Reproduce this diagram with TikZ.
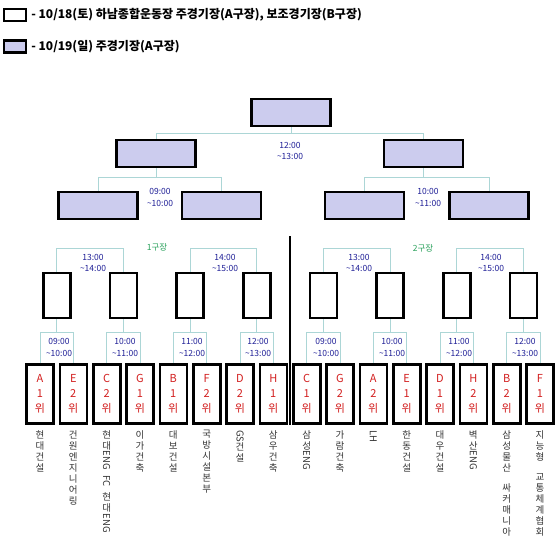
\documentclass[tikz,border=0pt]{standalone}
\usepackage{fontspec}
\setmainfont{Noto Sans CJK KR}
\usetikzlibrary{positioning}
\definecolor{slotfill}{RGB}{204,204,238}
\definecolor{linkcol}{RGB}{172,214,214}
\definecolor{timecol}{RGB}{30,30,150}
\definecolor{fieldcol}{RGB}{40,160,90}
\definecolor{rankcol}{RGB}{210,30,30}
\tikzset{
  legbox/.style  = {draw, line width=2.2pt, minimum width=22, minimum height=12,
                    inner sep=0pt},
  legtxt/.style  = {font=\bfseries\fontsize{12}{14}\selectfont, inner sep=0pt},
  upbox/.style   = {draw, line width=2.6pt, fill=slotfill, minimum width=79,
                    minimum height=27, inner sep=0pt},
  gamebox/.style = {draw, line width=2.6pt, minimum width=27, minimum height=45,
                    inner sep=0pt},
  teambox/.style = {draw, line width=2.6pt, minimum width=27, minimum height=59,
                    inner sep=0pt, align=center, text=rankcol,
                    font=\fontsize{11}{15}\selectfont},
  link/.style    = {draw=linkcol, line width=1pt},
  timelbl/.style = {text=timecol, align=center, inner sep=0pt,
                    font=\fontsize{8.5}{11.5}\selectfont},
  field/.style   = {text=fieldcol, inner sep=0pt, font=\fontsize{8.5}{10}\selectfont},
  tname/.style   = {anchor=north, align=center, inner sep=0pt, text=black!80,
                    font=\fontsize{9.5}{11}\selectfont},
}
\newcommand{\lat}[1]{\rotatebox[origin=c]{-90}{#1}}
\newcommand{\tl}{\textasciitilde}
\newcommand{\pairlink}[3]{\draw[link] (#1.north) -- (#1.north |- 0,#3)
  -- (#2.north |- 0,#3) -- (#2.north);}
\newcommand{\uplink}[2]{\draw[link] (#1.south) -- (#1.south |- 0,#2);}

\begin{document}
\begin{tikzpicture}[x=1pt, y=-1pt]
\useasboundingbox (0,0) rectangle (560,557);
% ---------------- legend ----------------
\node[legbox] (leg1) at (15,15) {};
\node[legtxt, right=4pt of leg1] (legt1)
   {- 10/18(토) 하남종합운동장 주경기장(A구장), 보조경기장(B구장)};
\node[legbox, fill=slotfill] (leg2) at (15,46.5) {};
\node[legtxt, right=4pt of leg2] (legt2) {- 10/19(일) 주경기장(A구장)};
% ---------------- upper rounds ----------------
\node[upbox] (fin) at (291,112.5) {};
\node[upbox] (s1) at (156,153.5) {};
\node[upbox] (s2) at (423.5,153.5) {};
\node[upbox] (q1) at (98,205.5) {};
\node[upbox] (q2) at (221.5,205.5) {};
\node[upbox] (q3) at (364.5,205.5) {};
\node[upbox] (q4) at (489,205.5) {};
\pairlink{s1}{s2}{133}
\uplink{fin}{133}
\pairlink{q1}{q2}{177}
\uplink{s1}{177}
\pairlink{q3}{q4}{177}
\uplink{s2}{177}
\node[timelbl] (t12) at (290,151) {12:00\\\tl13:00};
\node[timelbl] (t09) at (160,197.5) {09:00\\\tl10:00};
\node[timelbl] (t10) at (428,197.5) {10:00\\\tl11:00};
% ---------------- field 1 / field 2 ----------------
\node[field] (f1) at (157,247) {1구장};
\node[field] (f2) at (423,248) {2구장};
\coordinate (divtop) at (290,236);
\coordinate (divbot) at (290,425);
\draw[line width=1.3pt] (divtop) -- (divbot);
\node[gamebox] (g1) at (56.7,295.5) {};
\node[gamebox] (g2) at (123.3,295.5) {};
\node[gamebox] (g3) at (190,295.5) {};
\node[gamebox] (g4) at (256.7,295.5) {};
\node[gamebox] (g5) at (323.3,295.5) {};
\node[gamebox] (g6) at (390,295.5) {};
\node[gamebox] (g7) at (456.7,295.5) {};
\node[gamebox] (g8) at (523.3,295.5) {};
\pairlink{g1}{g2}{248}
\pairlink{g3}{g4}{248}
\pairlink{g5}{g6}{248}
\pairlink{g7}{g8}{248}
\node[timelbl] (t13a) at (93,263) {13:00\\\tl14:00};
\node[timelbl] (t14a) at (225,263) {14:00\\\tl15:00};
\node[timelbl] (t13b) at (359,263) {13:00\\\tl14:00};
\node[timelbl] (t14b) at (491,263) {14:00\\\tl15:00};
% ---------------- teams ----------------
\node[teambox] (tA1) at (40,394) {A\\1\\위};
\node[teambox] (tE2) at (73.3,394) {E\\2\\위};
\node[teambox] (tC2) at (106.7,394) {C\\2\\위};
\node[teambox] (tG1) at (140,394) {G\\1\\위};
\node[teambox] (tB1) at (173.3,394) {B\\1\\위};
\node[teambox] (tF2) at (206.7,394) {F\\2\\위};
\node[teambox] (tD2) at (240,394) {D\\2\\위};
\node[teambox] (tH1) at (273.3,394) {H\\1\\위};
\node[teambox] (tC1) at (306.7,394) {C\\1\\위};
\node[teambox] (tG2) at (340,394) {G\\2\\위};
\node[teambox] (tA2) at (373.3,394) {A\\2\\위};
\node[teambox] (tE1) at (406.7,394) {E\\1\\위};
\node[teambox] (tD1) at (440,394) {D\\1\\위};
\node[teambox] (tH2) at (473.3,394) {H\\2\\위};
\node[teambox] (tB2) at (506.7,394) {B\\2\\위};
\node[teambox] (tF1) at (540,394) {F\\1\\위};
\pairlink{tA1}{tE2}{332} \uplink{g1}{332}
\pairlink{tC2}{tG1}{332} \uplink{g2}{332}
\pairlink{tB1}{tF2}{332} \uplink{g3}{332}
\pairlink{tD2}{tH1}{332} \uplink{g4}{332}
\pairlink{tC1}{tG2}{332} \uplink{g5}{332}
\pairlink{tA2}{tE1}{332} \uplink{g6}{332}
\pairlink{tD1}{tH2}{332} \uplink{g7}{332}
\pairlink{tB2}{tF1}{332} \uplink{g8}{332}
\node[timelbl] (b09a) at (59,347.5) {09:00\\\tl10:00};
\node[timelbl] (b10a) at (125,347.5) {10:00\\\tl11:00};
\node[timelbl] (b11a) at (192,347.5) {11:00\\\tl12:00};
\node[timelbl] (b12a) at (258,347.5) {12:00\\\tl13:00};
\node[timelbl] (b09b) at (326,347.5) {09:00\\\tl10:00};
\node[timelbl] (b10b) at (392,347.5) {10:00\\\tl11:00};
\node[timelbl] (b11b) at (459,347.5) {11:00\\\tl12:00};
\node[timelbl] (b12b) at (525,347.5) {12:00\\\tl13:00};
% team names, written downwards
\node[tname] (nA1) at (40,430) {현\\대\\건\\설};
\node[tname] (nE2) at (73.3,430) {건\\원\\엔\\지\\니\\어\\링};
\node[tname] (nC2) at (106.7,430) {현\\대\\\lat{ENG}\\[5pt]\lat{FC}\\[5pt]현\\대\\\lat{ENG}};
\node[tname] (nG1) at (140,430) {이\\가\\건\\축};
\node[tname] (nB1) at (173.3,430) {대\\보\\건\\설};
\node[tname] (nF2) at (206.7,430) {국\\방\\시\\설\\본\\부};
\node[tname] (nD2) at (240,430) {\lat{GS}\\건\\설};
\node[tname] (nH1) at (273.3,430) {삼\\우\\건\\축};
\node[tname] (nC1) at (306.7,430) {삼\\성\\\lat{ENG}};
\node[tname] (nG2) at (340,430) {가\\람\\건\\축};
\node[tname] (nA2) at (373.3,430) {\lat{LH}};
\node[tname] (nE1) at (406.7,430) {한\\동\\건\\설};
\node[tname] (nD1) at (440,430) {대\\우\\건\\설};
\node[tname] (nH2) at (473.3,430) {벽\\산\\\lat{ENG}};
\node[tname] (nB2) at (506.7,430) {삼\\성\\물\\산\\[9pt]싸\\커\\매\\니\\아};
\node[tname] (nF1) at (540,430) {지\\능\\형\\[9pt]교\\통\\체\\계\\협\\회};
\end{tikzpicture}
\end{document}
